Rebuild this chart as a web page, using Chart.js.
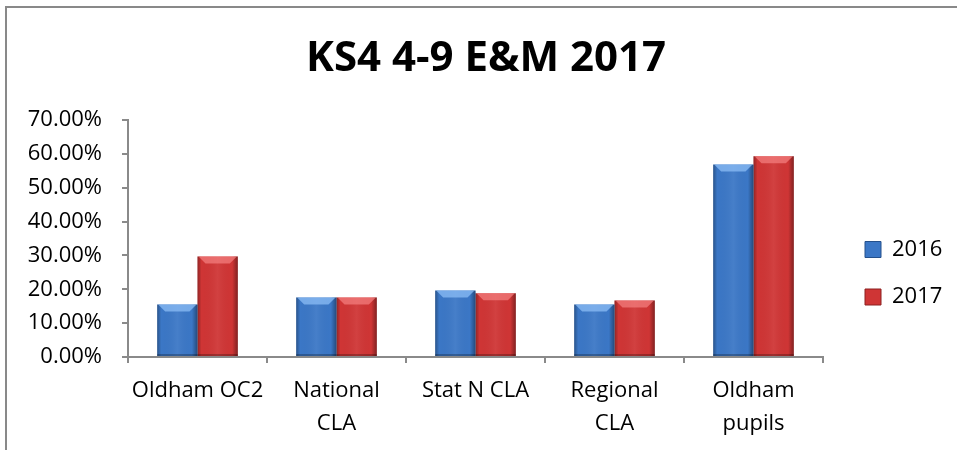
<!DOCTYPE html>
<html>
<head>
<meta charset="utf-8">
<script src="https://cdn.jsdelivr.net/npm/chart.js@4/dist/chart.umd.min.js"></script>
<style>
  html, body { margin: 0; padding: 0; background: #fff; overflow: hidden; }
  #frame { position: absolute; left: 5px; top: 6px; width: 1100px; height: 600px; border: 2px solid #898989; }
  #wrap { position: absolute; left: 0; top: 0; width: 972px; height: 450px; }
</style>
</head>
<body>
<div id="frame"></div>
<div id="wrap"><canvas id="chart"></canvas></div>
<script>
const CHART_TITLE = "KS4 4-9 E&M 2017";
const CATEGORIES = ["Oldham OC2", ["National", "CLA"], "Stat N CLA", ["Regional", "CLA"], ["Oldham", "pupils"]];
const SERIES_NAMES = ["2016", "2017"];
const VALUES_2016 = [0.155, 0.176, 0.196, 0.155, 0.568];
const VALUES_2017 = [0.297, 0.176, 0.188, 0.167, 0.593];
const Y_TICK_LABELS = ["0.00%", "10.00%", "20.00%", "30.00%", "40.00%", "50.00%", "60.00%", "70.00%"];

const FONT = "'Open Sans', 'DejaVu Sans', sans-serif";
const AXIS_GREY = "#8a8a8a";
const BAR_COLORS = ["#3b77c6", "#cf3535"];
const BAR_EDGES = ["#24508c", "#8c2020"];
const BAR_LIGHT = ["rgba(140,190,245,0.75)", "rgba(245,130,130,0.7)"];
const LEGEND_PAD = 25.5;

// bevel look on top of the library's own bars
const barBevel = {
  id: "barBevel",
  afterDatasetsDraw(chart) {
    const ctx = chart.ctx;
    chart.data.datasets.forEach((ds, di) => {
      const meta = chart.getDatasetMeta(di);
      meta.data.forEach((bar) => {
        const left = bar.x - bar.width / 2;
        const right = bar.x + bar.width / 2;
        const top = bar.y;
        const bottom = bar.base;
        const w = right - left;
        ctx.save();
        const g = ctx.createLinearGradient(left, 0, right, 0);
        g.addColorStop(0, "rgba(0,0,0,0.30)");
        g.addColorStop(0.1, "rgba(0,0,0,0.0)");
        g.addColorStop(0.5, "rgba(255,255,255,0.06)");
        g.addColorStop(0.86, "rgba(0,0,0,0.0)");
        g.addColorStop(1, "rgba(0,0,0,0.38)");
        ctx.fillStyle = g;
        ctx.fillRect(left, top, w, bottom - top);
        const ch = Math.min(7, (bottom - top) / 2);
        ctx.beginPath();
        ctx.moveTo(left + 1, top);
        ctx.lineTo(right - 1, top);
        ctx.lineTo(right - 1 - ch, top + ch);
        ctx.lineTo(left + 1 + ch, top + ch);
        ctx.closePath();
        ctx.fillStyle = BAR_LIGHT[di];
        ctx.fill();
        ctx.fillStyle = "rgba(0,0,0,0.25)";
        ctx.fillRect(left, bottom - 2, w, 2);
        ctx.restore();
      });
    });
  },
};

// put the legend where the reference has it
const legendPlace = {
  id: "legendPlace",
  afterLayout(chart) {
    const lg = chart.legend;
    if (!lg) return;
    const w = lg.width, h = lg.height;
    lg.left = 865 - LEGEND_PAD;
    lg.top = 213;
    lg.right = lg.left + w;
    lg.bottom = lg.top + h;
  },
};

new Chart(document.getElementById("chart"), {
  type: "bar",
  data: {
    labels: CATEGORIES,
    datasets: SERIES_NAMES.map((name, i) => ({
      label: name,
      data: i === 0 ? VALUES_2016 : VALUES_2017,
      backgroundColor: BAR_COLORS[i],
      borderWidth: 0,
      categoryPercentage: 0.58,
      barPercentage: 1,
    })),
  },
  plugins: [barBevel, legendPlace],
  options: {
    responsive: true,
    maintainAspectRatio: false,
    animation: false,
    devicePixelRatio: 1,
    layout: { padding: 0 },
    plugins: {
      title: {
        display: true,
        text: CHART_TITLE,
        color: "#000",
        font: { family: FONT, size: 42, weight: "bold" },
        padding: { top: 34, bottom: 35.5 },
      },
      legend: {
        position: "chartArea",
        align: "start",
        labels: {
          color: "#000",
          font: { family: FONT, size: 22 },
          boxWidth: 16,
          boxHeight: 16,
          padding: LEGEND_PAD,
          generateLabels(chart) {
            const items = Chart.defaults.plugins.legend.labels.generateLabels(chart);
            items.forEach((item, i) => {
              item.strokeStyle = BAR_EDGES[i];
              item.lineWidth = 1;
            });
            return items;
          },
        },
      },
      tooltip: { enabled: false },
    },
    scales: {
      x: {
        afterFit(scale) { scale.height = 93; },
        grid: {
          display: true,
          drawOnChartArea: false,
          drawTicks: true,
          tickLength: 6,
          color: AXIS_GREY,
          lineWidth: 2,
        },
        border: { display: true, color: AXIS_GREY, width: 2 },
        ticks: {
          color: "#000",
          font: { family: FONT, size: 22, lineHeight: 1.5 },
          padding: 11,
          maxRotation: 0,
          autoSkip: false,
        },
      },
      y: {
        min: 0,
        max: 0.7,
        afterFit(scale) { scale.width = 128; },
        grid: {
          display: true,
          drawOnChartArea: false,
          drawTicks: true,
          tickLength: 6,
          color: AXIS_GREY,
          lineWidth: 2,
        },
        border: { display: true, color: AXIS_GREY, width: 2 },
        ticks: {
          stepSize: 0.1,
          color: "#000",
          font: { family: FONT, size: 22 },
          padding: 20,
          callback(value, index) {
            return Y_TICK_LABELS[index];
          },
        },
      },
      // empty right-hand space that the legend sits in
      gap: {
        type: "linear",
        position: "right",
        display: true,
        afterFit(scale) { scale.width = 149; },
        grid: { display: false },
        border: { display: false },
        ticks: { display: false },
      },
    },
  },
});
</script>
</body>
</html>
